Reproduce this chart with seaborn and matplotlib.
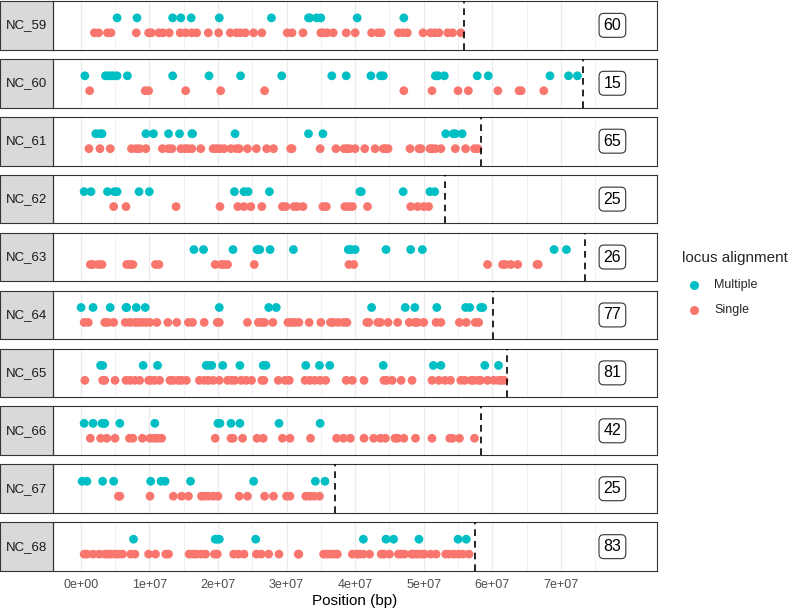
import numpy as np
import pandas as pd
import matplotlib
matplotlib.use("Agg")
import matplotlib.pyplot as plt
import seaborn as sns
from matplotlib.patches import Rectangle
from matplotlib.lines import Line2D
from matplotlib.ticker import FixedLocator, FuncFormatter

# chromosomes, their lengths (Mb) and the count shown in the label box
chromosomes = ["NC_59", "NC_60", "NC_61", "NC_62", "NC_63",
               "NC_64", "NC_65", "NC_66", "NC_67", "NC_68"]
chrom_length_mb = [55.8, 73.2, 58.3, 53.1, 73.5, 60.1, 62.1, 58.4, 37.0, 57.5]
locus_counts = [60, 15, 65, 25, 26, 77, 81, 42, 25, 83]

# locus positions in Mb
nc59_multiple = [5.3, 8.2, 13.4, 14.6, 16.1, 20.2, 27.8, 33.2, 33.4, 34.4, 35.0, 40.3, 47.1]
nc59_single = [2.0, 2.6, 3.9, 4.4, 8.1, 9.9, 10.3, 11.4, 12.0, 12.9, 14.5, 15.3, 16.2, 16.9,
               18.6, 20.1, 21.8, 22.7, 23.3, 24.0, 25.2, 26.4, 30.1, 30.8, 32.4, 35.0, 35.3,
               35.9, 36.8, 38.7, 40.0, 42.4, 43.3, 43.8, 46.3, 47.0, 47.6, 49.9, 51.0, 51.6,
               52.2, 53.5, 54.2, 55.4]

nc60_multiple = [0.6, 3.6, 4.0, 4.4, 4.8, 5.3, 6.8, 13.4, 18.7, 23.3, 29.3, 36.6, 38.7,
                 42.3, 43.7, 44.1, 51.7, 52.1, 53.0, 57.8, 59.4, 68.4, 71.1, 72.4]
nc60_single = [1.3, 9.4, 9.9, 15.3, 20.4, 26.8, 47.1, 51.2, 55.0, 56.5, 60.8, 63.9, 64.2, 67.5]

nc61_multiple = [2.2, 2.8, 3.1, 9.5, 10.6, 12.8, 14.4, 16.2, 16.3, 22.5, 33.2, 35.3,
                 53.2, 54.3, 54.6, 55.6]
nc61_single = [1.2, 2.8, 4.3, 7.4, 8.1, 8.6, 9.5, 11.9, 12.8, 13.3, 14.6, 15.2, 15.6, 16.2,
               17.5, 19.3, 19.8, 20.3, 20.9, 21.9, 22.7, 23.1, 24.3, 25.6, 27.1, 28.1, 30.6,
               30.8, 34.9, 37.2, 38.4, 38.8, 39.2, 40.0, 41.4, 42.9, 44.1, 44.4, 44.8, 48.0,
               49.3, 49.6, 50.9, 51.2, 51.7, 52.5, 54.6, 56.1, 57.4, 57.9]

nc62_multiple = [0.5, 1.5, 3.9, 4.9, 5.3, 8.5, 10.0, 22.4, 23.8, 24.4, 27.5, 40.7, 40.9,
                 47.0, 50.9, 51.6]
nc62_single = [4.8, 6.6, 13.9, 20.3, 22.9, 23.8, 24.8, 26.4, 29.4, 29.9, 31.1, 31.6, 32.4,
               35.3, 35.8, 38.5, 39.1, 39.6, 41.8, 48.1, 49.1, 50.0, 50.7]

nc63_multiple = [16.5, 17.9, 22.2, 25.7, 26.1, 27.6, 31.0, 39.0, 39.4, 40.0, 44.5, 48.1,
                 49.8, 69.0, 70.8]
nc63_single = [1.4, 1.8, 2.6, 3.1, 6.7, 7.2, 7.6, 10.9, 11.4, 19.6, 20.5, 20.9, 21.4, 25.3,
               39.1, 39.8, 59.3, 61.5, 61.9, 62.7, 63.7, 66.5, 66.7]

nc64_multiple = [0.05, 1.8, 4.3, 6.6, 6.7, 8.1, 9.4, 20.2, 27.4, 28.5, 42.4, 47.3, 48.7,
                 51.9, 56.1, 56.7, 58.3, 58.6]
nc64_single = [0.5, 1.1, 3.5, 4.0, 4.8, 6.5, 7.2, 7.9, 8.3, 8.9, 9.5, 10.1, 11.1, 12.7,
               14.0, 15.7, 16.3, 18.0, 19.9, 20.2, 24.3, 25.9, 26.4, 26.8, 28.0, 30.2, 30.7,
               31.2, 31.8, 33.3, 35.0, 36.4, 36.8, 37.5, 38.3, 38.8, 41.7, 42.0, 43.3, 43.7,
               44.8, 46.2, 47.9, 48.7, 49.1, 50.0, 51.8, 52.5, 55.2, 56.2, 57.5, 58.0]

nc65_multiple = [2.9, 3.2, 9.1, 11.2, 18.3, 18.6, 19.1, 20.7, 23.2, 26.6, 27.0, 32.8, 34.8,
                 36.3, 44.1, 51.4, 52.5, 58.9, 60.9]
nc65_single = [0.6, 3.2, 3.5, 5.0, 6.6, 7.2, 7.9, 8.6, 9.9, 10.3, 10.8, 11.5, 13.0, 13.5,
               14.2, 14.7, 15.4, 17.3, 18.0, 18.6, 19.3, 20.2, 21.4, 22.0, 22.5, 23.4, 24.1,
               24.9, 26.4, 26.7, 28.8, 29.8, 30.4, 32.7, 33.4, 34.1, 34.9, 35.7, 38.7, 39.6,
               41.3, 44.2, 44.6, 45.4, 46.7, 48.3, 51.2, 52.2, 53.1, 53.9, 55.4, 56.0, 56.9,
               57.3, 58.0, 58.3, 59.3, 60.2, 60.9, 61.3, 61.7]

nc66_multiple = [0.5, 1.8, 3.1, 3.4, 3.5, 5.7, 10.8, 20.0, 20.3, 21.9, 23.2, 28.9, 34.9]
nc66_single = [1.4, 2.9, 3.8, 5.0, 7.1, 7.6, 9.0, 10.1, 10.7, 11.2, 11.8, 19.6, 21.9, 22.2,
               23.6, 25.7, 26.6, 29.4, 30.5, 33.5, 37.3, 38.3, 39.3, 41.3, 42.7, 43.7, 44.4,
               45.8, 46.2, 47.1, 48.8, 51.2, 53.8, 54.2, 55.2, 57.4]

nc67_multiple = [0.2, 0.9, 3.2, 4.8, 10.2, 11.7, 12.3, 16.0, 25.2, 34.2, 35.6]
nc67_single = [5.5, 5.7, 10.1, 13.5, 14.7, 15.7, 17.6, 18.0, 18.6, 19.3, 20.0, 23.1, 24.3,
               26.8, 28.1, 30.0, 30.5, 32.8, 33.4, 34.0, 34.8]

nc68_multiple = [7.7, 19.6, 19.9, 20.2, 25.5, 41.2, 44.5, 45.6, 49.3, 55.0, 56.2]
nc68_single = [0.5, 0.9, 1.8, 2.7, 3.5, 3.9, 4.4, 5.0, 5.5, 6.1, 7.3, 7.9, 9.9, 10.9, 12.4,
               12.8, 15.8, 16.4, 16.9, 17.6, 18.2, 19.5, 19.9, 22.3, 23.0, 23.8, 25.6, 26.3,
               27.4, 28.9, 31.7, 31.8, 35.4, 35.9, 36.4, 36.9, 37.4, 39.6, 40.3, 40.6, 41.2,
               42.1, 43.8, 44.2, 45.0, 46.3, 46.7, 47.2, 48.2, 48.6, 49.1, 49.7, 50.1, 51.0,
               51.8, 53.2, 53.7, 54.4, 55.1, 55.7, 56.6]

multiple_positions = [nc59_multiple, nc60_multiple, nc61_multiple, nc62_multiple, nc63_multiple,
                      nc64_multiple, nc65_multiple, nc66_multiple, nc67_multiple, nc68_multiple]
single_positions = [nc59_single, nc60_single, nc61_single, nc62_single, nc63_single,
                    nc64_single, nc65_single, nc66_single, nc67_single, nc68_single]

# long table for seaborn
rows = []
for chrom, mult, sing in zip(chromosomes, multiple_positions, single_positions):
    rows += [(chrom, p * 1e6, "Multiple") for p in mult]
    rows += [(chrom, p * 1e6, "Single") for p in sing]
df = pd.DataFrame(rows, columns=["chrom", "position", "alignment"])
df["y"] = df["alignment"].map({"Multiple": 1.0, "Single": 0.0})

palette = {"Multiple": "#00BFC4", "Single": "#F8766D"}

sns.set_style("white")
plt.rcParams["font.family"] = ["Liberation Sans", "DejaVu Sans"]

W, H = 800, 612
fig, axes = plt.subplots(10, 1, figsize=(W / 100, H / 100), dpi=100, sharex=True)
fig.subplots_adjust(left=53 / W, right=657 / W, top=1 - 1 / H, bottom=1 - 571 / H, hspace=0.19)

panel_w = 657 - 53
strip_w = 53 / panel_w
label_x = 7.75e7

for i, (ax, chrom, length, n) in enumerate(zip(axes, chromosomes, chrom_length_mb, locus_counts)):
    sub = df[df["chrom"] == chrom]
    sns.scatterplot(data=sub, x="position", y="y", hue="alignment", palette=palette,
                    s=40, linewidth=0, legend=False, ax=ax, zorder=3)
    ax.axvline(length * 1e6, color="black", ls=(0, (4, 3)), lw=1.2, zorder=4)
    ax.text(label_x, 0.5, str(n), ha="center", va="center", fontsize=11.5, color="black",
            bbox=dict(boxstyle="round,pad=0.28,rounding_size=0.3", fc="white",
                      ec="#333333", lw=0.8), zorder=5)

    ax.set_xlim(-0.404e7, 8.40e7)
    ax.set_ylim(-1.13, 2.13)
    ax.set_yticks([])
    ax.set_ylabel("")
    ax.set_xlabel("")

    ax.xaxis.set_major_locator(FixedLocator(np.arange(0, 7.01e7, 1e7)))
    ax.xaxis.set_minor_locator(FixedLocator(np.arange(0.5e7, 8.01e7, 1e7)))
    ax.grid(which="major", axis="x", color="#EBEBEB", lw=0.9, zorder=0)
    ax.grid(which="minor", axis="x", color="#EBEBEB", lw=0.5, zorder=0)
    ax.set_axisbelow(True)

    for sp in ax.spines.values():
        sp.set_color("#333333")
        sp.set_linewidth(0.8)

    # facet strip on the left
    ax.add_patch(Rectangle((-strip_w, 0), strip_w, 1, transform=ax.transAxes,
                           fc="#D9D9D9", ec="#333333", lw=0.8, clip_on=False, zorder=2))
    ax.text(-strip_w / 2, 0.5, chrom, transform=ax.transAxes, ha="center", va="center",
            fontsize=9.5, color="#1A1A1A")

    if i < len(axes) - 1:
        ax.tick_params(axis="x", which="both", length=0, labelbottom=False)
    else:
        ax.tick_params(axis="x", which="major", length=3.5, width=0.8, color="#333333",
                       labelsize=9, labelcolor="#4D4D4D", pad=2.5)
        ax.tick_params(axis="x", which="minor", length=0)
        ax.xaxis.set_major_formatter(FuncFormatter(lambda v, pos: f"{v:.0e}"))
        ax.set_xlabel("Position (bp)", fontsize=11, color="black", labelpad=2)

# legend
fig.text(682 / W, 1 - 258 / H, "locus alignment", ha="left", va="center", fontsize=11)
for lab, ypx in [("Multiple", 285), ("Single", 310)]:
    fig.add_artist(Line2D([694 / W], [1 - ypx / H], marker="o", color=palette[lab],
                          markersize=6.5, markeredgewidth=0, linestyle="none"))
    fig.text(714 / W, 1 - ypx / H, lab, ha="left", va="center", fontsize=9)

fig.savefig("out.png", dpi=100)
